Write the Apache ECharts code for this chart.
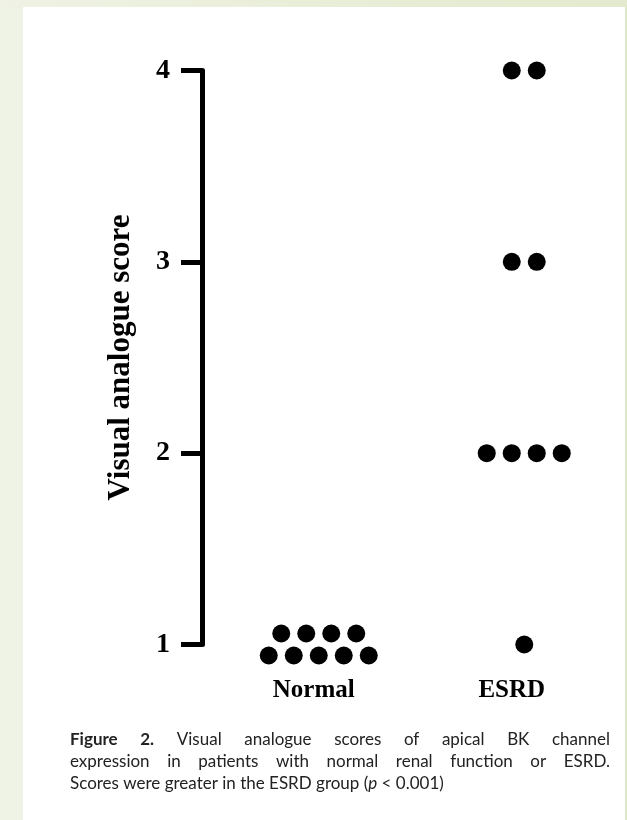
<!DOCTYPE html>
<html>
<head>
<meta charset="utf-8">
<script src="https://cdn.jsdelivr.net/npm/echarts@6/dist/echarts.min.js"></script>
<style>
html,body{margin:0;padding:0;background:#eff3e6;}
#chart{width:627px;height:820px;}
</style>
</head>
<body>
<div id="chart"></div>
<script>
// ---- data ----
const categories = ['Normal', 'ESRD'];
const normalScores = [1, 1, 1, 1, 1, 1, 1, 1, 1];
const esrdScores = [4, 4, 3, 3, 2, 2, 2, 2, 1];
const yMin = 1, yMax = 4, yStep = 1;
const yAxisTitle = 'Visual analogue score';
const captionLine1 = [['Figure', true], ['2.', true], ['Visual', false], ['analogue', false], ['scores', false], ['of', false], ['apical', false], ['BK', false], ['channel', false]];
const captionLine2 = ['expression', 'in', 'patients', 'with', 'normal', 'renal', 'function', 'or', 'ESRD.'];
const captionLine3 = 'Scores were greater in the ESRD group ({i|p} < 0.001)';

// ---- layout helpers ----
const DOT = 18, DX = 25, ROW_GAP = 22, MAX_PER_ROW = 5;
function swarm(catIndex, values) {
  const groups = {};
  values.forEach(v => { (groups[v] = groups[v] || []).push(v); });
  const out = [];
  Object.keys(groups).forEach(k => {
    const n = groups[k].length;
    const rows = Math.ceil(n / MAX_PER_ROW);
    let remaining = n;
    for (let r = 0; r < rows; r++) {
      const m = Math.ceil(remaining / (rows - r));
      remaining -= m;
      const dy = -(r - (rows - 1) / 2) * ROW_GAP;
      for (let i = 0; i < m; i++) {
        out.push({ value: [catIndex, Number(k)], symbolOffset: [(i - (m - 1) / 2) * DX, dy] });
      }
    }
  });
  return out;
}

const capFont = 'Lato';
const capSize = 17;
const capColor = '#222222';
const canvas = document.createElement('canvas');
const ctx = canvas.getContext('2d');
function w(text, bold) {
  ctx.font = (bold ? 'bold ' : '') + capSize + 'px ' + capFont;
  return ctx.measureText(text).width;
}
function justify(words, y, x0, x1) {
  const widths = words.map(wd => w(wd[0], wd[1]));
  const total = widths.reduce((a, b) => a + b, 0);
  const gap = (x1 - x0 - total) / (words.length - 1);
  let x = x0;
  return words.map((wd, i) => {
    const el = {
      type: 'text', x: x, y: y, z: 10,
      style: { text: wd[0], fontFamily: capFont, fontSize: capSize, fontWeight: wd[1] ? 'bold' : 'normal', fill: capColor, textVerticalAlign: 'middle' }
    };
    x += widths[i] + gap;
    return el;
  });
}

const chart = echarts.init(document.getElementById('chart'));
const graphics = [
  { type: 'rect', z: -10, shape: { x: 0, y: 0, width: 627, height: 8 }, style: { fill: new echarts.graphic.LinearGradient(0, 0, 1, 0, [{ offset: 0, color: '#eff2e4' }, { offset: 1, color: '#e3eacd' }]) } },
  { type: 'rect', z: -10, shape: { x: 23, y: 7, width: 602, height: 813 }, style: { fill: '#ffffff' } },
  { type: 'rect', z: -10, shape: { x: 625, y: 7, width: 2, height: 813 }, style: { fill: '#dfe7c9' } }
].concat(
  justify(captionLine1, 740, 70, 610),
  justify(captionLine2.map(s => [s, false]), 762, 70, 610),
  [{ type: 'text', x: 70, y: 784, z: 10, style: { text: captionLine3, fontFamily: capFont, fontSize: capSize, fill: capColor, textVerticalAlign: 'middle', rich: { i: { fontStyle: 'italic', fontFamily: capFont, fontSize: capSize, fill: capColor } } } }]
);

const labelStyle = { color: '#000', fontFamily: 'Liberation Serif', fontWeight: 'bold', fontSize: 25 };
chart.setOption({
  animation: false,
  backgroundColor: 'transparent',
  grid: { left: 216, width: 411, top: 70.5, bottom: 175.5 },
  graphic: graphics,
  xAxis: {
    type: 'category', data: categories, boundaryGap: true,
    axisLine: { show: false }, axisTick: { show: false }, splitLine: { show: false },
    axisLabel: Object.assign({
      margin: 34,
      formatter: v => (v === 'ESRD' ? '{e|' : '{n|') + v + '}',
      rich: {
        e: Object.assign({ padding: [0, 25, 0, 0] }, labelStyle),
        n: Object.assign({ padding: [0, 10, 0, 0] }, labelStyle)
      }
    }, labelStyle)
  },
  yAxis: {
    type: 'value', min: yMin, max: yMax, interval: yStep, offset: 14,
    name: yAxisTitle, nameLocation: 'middle', nameRotate: 90, nameGap: 66,
    nameTextStyle: { color: '#000', fontFamily: 'Liberation Serif', fontWeight: 'bold', fontSize: 31 },
    axisLine: { show: true, lineStyle: { color: '#000', width: 5 } },
    axisTick: { show: true, length: 21, lineStyle: { color: '#000', width: 5 } },
    axisLabel: { margin: 32, color: '#000', fontFamily: 'Liberation Serif', fontWeight: 'bold', fontSize: 28 },
    splitLine: { show: false }
  },
  series: [
    { type: 'scatter', name: categories[0], symbol: 'circle', symbolSize: DOT, itemStyle: { color: '#000', opacity: 1 }, data: swarm(0, normalScores) },
    { type: 'scatter', name: categories[1], symbol: 'circle', symbolSize: DOT, itemStyle: { color: '#000', opacity: 1 }, data: swarm(1, esrdScores) }
  ]
});
</script>
</body>
</html>
